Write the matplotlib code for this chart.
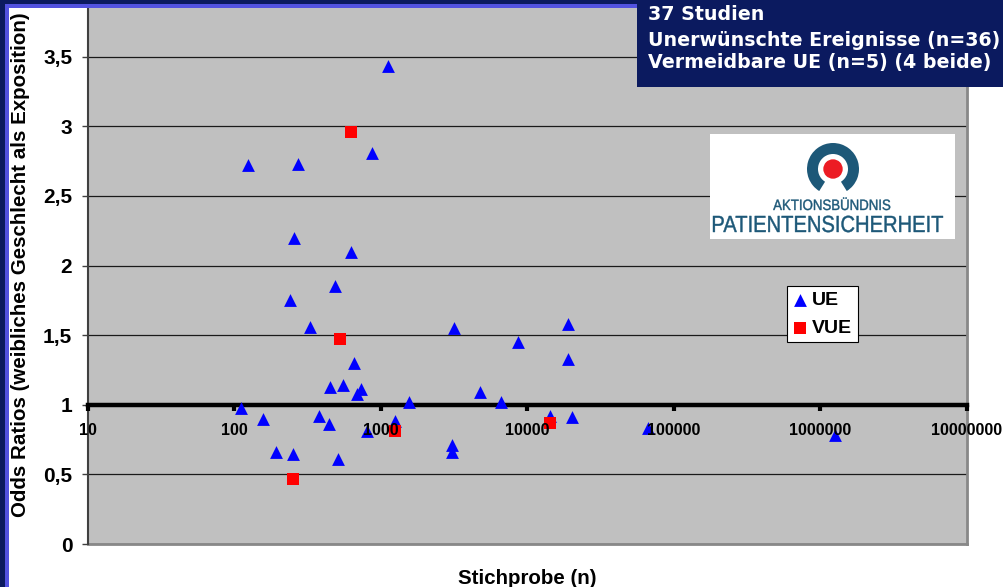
import numpy as np
import matplotlib.pyplot as plt
from matplotlib.patches import Rectangle, Wedge, Circle, PathPatch
from matplotlib.textpath import TextPath
from matplotlib.font_manager import FontProperties
from matplotlib.transforms import Affine2D
from matplotlib.ticker import NullLocator

plt.rcParams['font.family'] = ['Liberation Sans', 'DejaVu Sans']

# Stichprobe (n) und Odds Ratios
ue_n = [124, 271, 869, 255, 621, 487, 239, 327, 658, 448, 548, 683,
        734, 111, 1552, 156, 378, 444, 1248, 798, 192, 252, 512, 1117,
        3133, 18880, 8610, 18880, 4763, 6590, 14160, 20230, 3069, 3055,
        66530, 1256000]
ue_or = [2.72, 2.73, 2.81, 2.20, 2.10, 1.85, 1.75, 1.56, 1.30, 1.13, 1.14, 1.08,
         1.11, 0.98, 1.02, 0.90, 0.92, 0.86, 0.88, 0.81, 0.66, 0.65, 0.61, 3.43,
         1.55, 1.58, 1.45, 1.33, 1.09, 1.02, 0.92, 0.91, 0.71, 0.66,
         0.83, 0.78]
vue_n = [624, 525, 1248, 14160, 252]
vue_or = [2.96, 1.47, 0.81, 0.87, 0.47]

x_ticks = [10, 100, 1000, 10000, 100000, 1000000, 10000000]
x_ticklabels = ['10', '100', '1000', '10000', '100000', '1000000', '10000000']
y_ticks = [0, 0.5, 1, 1.5, 2, 2.5, 3, 3.5]
y_ticklabels = ['0', '0,5', '1', '1,5', '2', '2,5', '3', '3,5']

box_lines = ['37 Studien', 'Unerwünschte Ereignisse (n=36)', 'Vermeidbare UE (n=5) (4 beide)']

W, H = 1004, 587
navy = '#0b1a5f'
blue_line = '#5252e0'
teal = '#1d5878'

def fx(px):
    return px / W

def fy(py):
    return 1 - py / H

def narrow_text(axis, s, cx, base, size, width, color):
    # schmale Schrift: Textpfad horizontal gestaucht
    tp = TextPath((0, 0), s, size=size, prop=FontProperties(family='Liberation Sans'))
    ext = tp.get_extents()
    sx = width / ext.width
    tr = Affine2D().translate(-ext.x0 - ext.width / 2, 0).scale(sx, 1).translate(cx, base)
    axis.add_patch(PathPatch(tr.transform_path(tp), facecolor=color, edgecolor=color, lw=0.3))

fig = plt.figure(figsize=(W / 100, H / 100), dpi=100)

ax = fig.add_axes([fx(88), fy(544), (967 - 88) / W, (544 - 8) / H])
ax.set_facecolor('#c0c0c0')
ax.set_xscale('log')
ax.set_xlim(10, 1e7)
ax.set_ylim(0, 3.85)

# x-Achse schneidet bei OR = 1
ax.spines['bottom'].set_position(('data', 1))
ax.spines['bottom'].set_linewidth(3.2)
ax.spines['bottom'].set_color('black')
ax.spines['top'].set_visible(False)
ax.spines['left'].set_color('#404040')
ax.spines['left'].set_linewidth(1.5)
ax.spines['right'].set_color('#888888')
ax.spines['right'].set_linewidth(2)
ax.axhline(0, color='#888888', lw=2, clip_on=False, zorder=2.4)

ax.set_xticks(x_ticks, x_ticklabels, fontsize=11.5, fontweight='bold')
ax.xaxis.set_minor_locator(NullLocator())
ax.tick_params(axis='x', direction='out', length=4.3, width=3, pad=9, color='black')
ax.xaxis.set_zorder(4)

ax.set_yticks(y_ticks, y_ticklabels, fontsize=15, fontweight='bold')
ax.tick_params(axis='y', direction='out', length=4.3, width=1, pad=7, color='#404040')
ax.yaxis.grid(True, color='#1a1a1a', lw=0.9)

ax.scatter(ue_n, ue_or, marker='^', s=85, c='#0000ff', linewidths=0, zorder=3, label='UE')
ax.scatter(vue_n, vue_or, marker='s', s=72, c='#ff0000', linewidths=0, zorder=3, label='VUE')

leg = ax.legend(loc='upper left', bbox_to_anchor=(fx(786.7), fy(286)),
                bbox_transform=fig.transFigure, prop={'weight': 'bold', 'size': 14},
                frameon=True, fancybox=False, edgecolor='black', framealpha=1,
                borderpad=0.28, labelspacing=0.53, handlelength=0.82,
                handletextpad=0.2, borderaxespad=0, scatterpoints=1)
leg.get_frame().set_linewidth(0.8)

fig.text(fx(21), fy(265), 'Odds Ratios (weibliches Geschlecht als Exposition)',
         rotation=90, ha='center', va='center', fontsize=14.8, fontweight='bold')
fig.text(fx(527.5), fy(579), 'Stichprobe (n)', ha='center', va='center',
         fontsize=14.8, fontweight='bold')

# Rahmen links und oben
fig.patches.append(Rectangle((0, 0), fx(5), 1, transform=fig.transFigure,
                             facecolor=navy, edgecolor='none', zorder=6))
fig.patches.append(Rectangle((0, fy(3.5)), 1, 3.5 / H, transform=fig.transFigure,
                             facecolor=navy, edgecolor='none', zorder=6))
fig.patches.append(Rectangle((fx(5), 0), 4 / W, fy(3.5), transform=fig.transFigure,
                             facecolor=blue_line, edgecolor='none', zorder=6))
fig.patches.append(Rectangle((fx(5), fy(8)), 1, 4.5 / H, transform=fig.transFigure,
                             facecolor=blue_line, edgecolor='none', zorder=6))

# Textkasten oben rechts
fig.patches.append(Rectangle((fx(637), fy(87)), (W - 637) / W, 87 / H,
                             transform=fig.transFigure, facecolor=navy,
                             edgecolor='none', zorder=10))
for txt, base in zip(box_lines, [20, 45.5, 68]):
    fig.text(fx(648), fy(base), txt, color='white', fontsize=13.7, fontweight='bold',
             family='DejaVu Sans', va='baseline', ha='left', zorder=11)

# Logo
lax = fig.add_axes([fx(710), fy(239), 245 / W, 105 / H])
lax.set_zorder(5)
lax.set_xlim(0, 245)
lax.set_ylim(0, 105)
lax.axis('off')
lax.add_patch(Rectangle((0, 0), 245, 105, facecolor='white', edgecolor='none'))
lax.add_patch(Wedge((123, 70), 26, -58, 238, width=11, facecolor=teal, edgecolor='none'))
lax.add_patch(Circle((123, 70), 9.7, facecolor='#ec1c24', edgecolor='none'))
narrow_text(lax, 'AKTIONSBÜNDNIS', 121.7, 29, 15, 117, teal)
narrow_text(lax, 'PATIENTENSICHERHEIT', 118, 7, 23.3, 230, teal)

fig.savefig('out.png', dpi=100)
